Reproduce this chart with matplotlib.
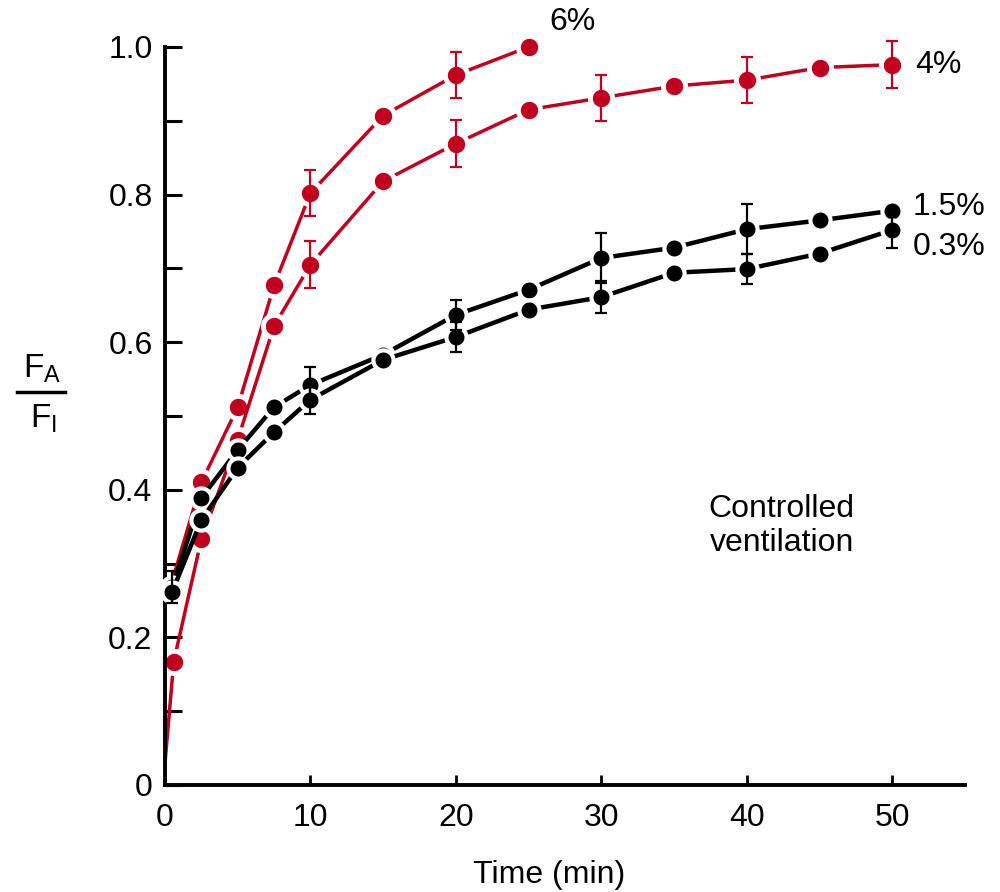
import numpy as np
import matplotlib.pyplot as plt
from matplotlib.lines import Line2D

plt.rcParams['font.family'] = ['Liberation Sans', 'DejaVu Sans']
plt.rcParams['mathtext.fontset'] = 'custom'
plt.rcParams['mathtext.rm'] = 'Liberation Sans'

RED = '#c0001e'
BLACK = '#000000'

# 6% (red, upper) - first point hidden behind the black markers
t6 = [0.4, 2.5, 5, 7.5, 10, 15, 20, 25]
v6 = [0.27, 0.41, 0.512, 0.677, 0.802, 0.907, 0.962, 1.0]
e6_t = [10, 20]
e6 = [0.031, 0.031]

# 4% (red, lower) - first point is the curve start, no marker
t4 = [0, 0.6, 2.5, 5, 7.5, 10, 15, 20, 25, 30, 35, 40, 45, 50]
v4 = [0.03, 0.167, 0.333, 0.468, 0.622, 0.705, 0.818, 0.869, 0.915, 0.931, 0.947, 0.955, 0.972, 0.976]
e4_t = [10, 20, 30, 40, 50]
e4 = [0.032, 0.032, 0.031, 0.031, 0.032]

# 1.5% (black, upper)
t15 = [0.5, 2.5, 5, 7.5, 10, 15, 20, 25, 30, 35, 40, 45, 50]
v15 = [0.268, 0.389, 0.454, 0.512, 0.542, 0.583, 0.637, 0.671, 0.714, 0.728, 0.753, 0.765, 0.778]
e15_t = [0.5, 10, 20, 30, 40]
e15 = [0.022, 0.024, 0.02, 0.034, 0.034]

# 0.3% (black, lower)
t03 = [0.5, 2.5, 5, 7.5, 10, 15, 20, 25, 30, 35, 40, 45, 50]
v03 = [0.262, 0.359, 0.43, 0.478, 0.522, 0.576, 0.607, 0.644, 0.661, 0.694, 0.699, 0.72, 0.752]
e03_t = [10, 20, 30, 40, 50]
e03 = [0.02, 0.02, 0.022, 0.02, 0.025]

fig = plt.figure(figsize=(10, 8.92), dpi=100)
ax = fig.add_axes([0.165, 0.12, 0.80, 0.8274])


def draw_series(t, v, et, e, color, lw, ms, mew, z, markevery=None):
    ax.plot(t, v, color=color, lw=lw, marker='o', ms=ms, mfc=color, mec='white',
            mew=mew, markevery=markevery, zorder=z, clip_on=False)
    lookup = dict(zip(t, v))
    ax.errorbar(et, [lookup[x] for x in et], yerr=e, fmt='none', ecolor=color,
                elinewidth=1.6, capsize=4.5, capthick=1.6, zorder=z + 2, clip_on=False)


draw_series(t6, v6, e6_t, e6, RED, 2.5, 16, 3.5, 2, markevery=slice(1, None))
draw_series(t4, v4, e4_t, e4, RED, 2.5, 16, 3.5, 2, markevery=slice(1, None))
draw_series(t15, v15, e15_t, e15, BLACK, 3.2, 14.5, 3, 3)
draw_series(t03, v03, e03_t, e03, BLACK, 3.2, 14.5, 3, 3)

ax.set_xlim(0, 55)
ax.set_ylim(0, 1.0)
ax.spines['top'].set_visible(False)
ax.spines['right'].set_visible(False)
ax.spines['left'].set_linewidth(2.8)
ax.spines['bottom'].set_linewidth(2.8)

ax.set_yticks([0, 0.2, 0.4, 0.6, 0.8, 1.0])
ax.set_yticklabels(['0', '0.2', '0.4', '0.6', '0.8', '1.0'])
ax.set_yticks([0.1, 0.3, 0.5, 0.7, 0.9], minor=True)
ax.tick_params(axis='y', which='both', direction='in', length=12, width=2.2,
               labelsize=23, pad=9)
ax.set_xticks([0, 10, 20, 30, 40, 50])
ax.tick_params(axis='x', direction='in', length=7, width=2, labelsize=23, pad=13)

ax.set_xlabel('Time (min)', fontsize=23, va='center')
ax.xaxis.set_label_coords(0.48, -0.122)

# y label as a stacked fraction
fig.text(0.042, 1 - 378 / 892, r'$\mathregular{F_A}$', fontsize=24, ha='center', va='baseline')
fig.text(0.043, 1 - 428 / 892, r'$\mathregular{F_I}$', fontsize=24, ha='center', va='baseline')
fig.add_artist(Line2D([0.017, 0.065], [1 - 392 / 892, 1 - 392 / 892], color='black', lw=2.5))

ax.text(28.0, 1.034, '6%', fontsize=23, ha='center', va='center')
ax.text(51.6, 0.976, '4%', fontsize=23, ha='left', va='center')
ax.text(51.4, 0.783, '1.5%', fontsize=23, ha='left', va='center')
ax.text(51.4, 0.729, '0.3%', fontsize=23, ha='left', va='center')
ax.text(42.4, 0.351, 'Controlled\nventilation', fontsize=23, ha='center', va='center',
        multialignment='center', linespacing=1.15)

fig.savefig('out.png', dpi=100)
